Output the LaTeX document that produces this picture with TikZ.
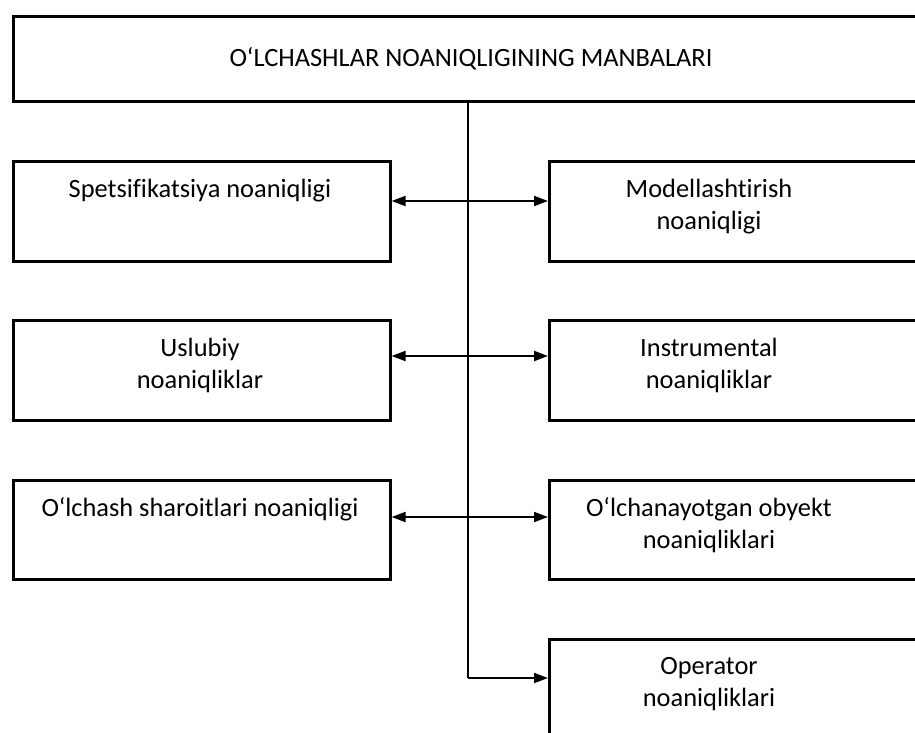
\documentclass[tikz,border=0pt]{standalone}
\usepackage{fontspec}
\setmainfont{Carlito}[Ligatures=NoCommon]
\usetikzlibrary{arrows.meta}

\tikzset{
  box/.style={draw=black, line width=2.6pt, fill=white, rectangle,
              inner sep=0pt, anchor=north west},
  lbox/.style={box, minimum width=377pt},
  rbox/.style={box, minimum width=382pt},
  % multi-line labels sit on the baseline of their last line
  label text/.style={inner sep=0pt, anchor=base, align=center,
                     font=\fontsize{26.4}{32}\selectfont},
  trunk/.style={draw=black, line width=1.8pt},
  link/.style={draw=black, line width=2pt,
               {Triangle[length=14pt,width=10pt]}-{Triangle[length=14pt,width=10pt]}},
  feed/.style={draw=black, line width=1.9pt, -{Triangle[length=14pt,width=10pt]}}
}

\begin{document}
\begin{tikzpicture}[x=1pt, y=-1pt]
  \useasboundingbox (0,0) rectangle (915,732);
  \clip (0,0) rectangle (915,732);

  % heading box
  \node[box, minimum width=918pt, minimum height=85pt] (title) at (12,15) {};
  \node[label text] (titletext) at (471,66) {O‘LCHASHLAR NOANIQLIGINING MANBALARI};

  % junction points on the vertical trunk
  \coordinate (j1) at (468,201);
  \coordinate (j2) at (468,356);
  \coordinate (j3) at (468,517);
  \coordinate (j4) at (468,678);

  % left column
  \node[lbox, minimum height=100pt] (l1) at (12,160) {};
  \node[lbox, minimum height=100pt] (l2) at (12,319) {};
  \node[lbox, minimum height=99pt]  (l3) at (12,479) {};

  % right column
  \node[rbox, minimum height=100pt] (r1) at (548,160) {};
  \node[rbox, minimum height=100pt] (r2) at (548,319) {};
  \node[rbox, minimum height=99pt]  (r3) at (548,479) {};
  \node[rbox, minimum height=110pt] (r4) at (548,638) {};

  % texts
  \node[label text] (t1) at (200,197) {Spetsifikatsiya noaniqligi};
  \node[label text] (t2) at (200,388) {Uslubiy\\noaniqliklar};
  \node[label text] (t3) at (200,516) {O‘lchash sharoitlari noaniqligi};
  \node[label text] (t4) at (709,229) {Modellashtirish\\noaniqligi};
  \node[label text] (t5) at (709,388) {Instrumental\\noaniqliklar};
  \node[label text] (t6) at (709,548) {O‘lchanayotgan obyekt\\noaniqliklari};
  \node[label text] (t7) at (709,706) {Operator\\noaniqliklari};

  % trunk and branches
  \draw[trunk] (title.south -| j1) -- (j4);
  \draw[feed] (j4) -- (r4.west |- j4);
  \draw[link] (l1.east |- j1) -- (r1.west |- j1);
  \draw[link] (l2.east |- j2) -- (r2.west |- j2);
  \draw[link] (l3.east |- j3) -- (r3.west |- j3);
\end{tikzpicture}
\end{document}
